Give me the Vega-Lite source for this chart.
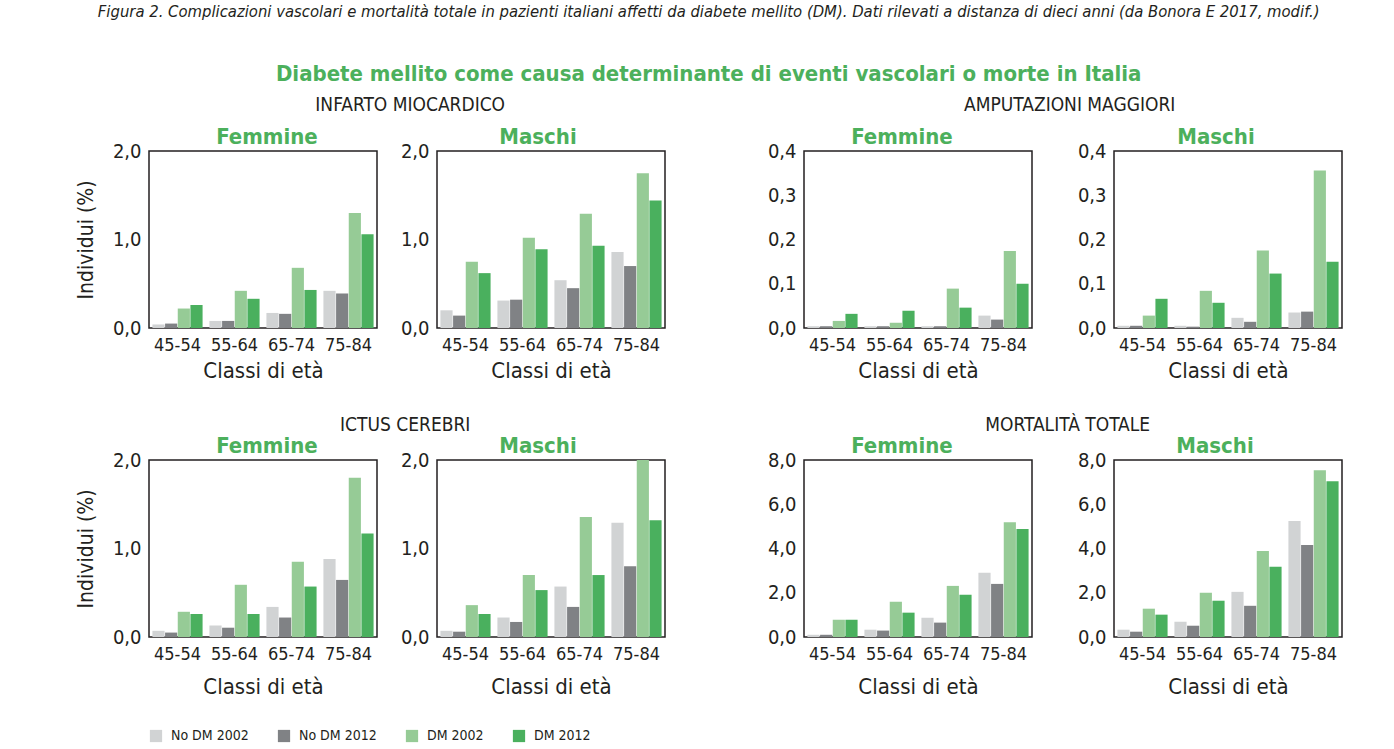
{
  "$schema": "https://vega.github.io/schema/vega-lite/v6.json",
  "padding": {"left": 74, "top": 3, "right": 5, "bottom": 5},
  "background": "white",
  "title": {
    "text": "Figura 2. Complicazioni vascolari e mortalità totale in pazienti italiani affetti da diabete mellito (DM). Dati rilevati a distanza di dieci anni (da Bonora E 2017, modif.)",
    "fontSize": 16.5, "fontStyle": "italic", "fontWeight": "normal", "color": "#231f20",
    "subtitle": "Diabete mellito come causa determinante di eventi vascolari o morte in Italia",
    "subtitleColor": "#4cb05c", "subtitleFontSize": 22, "subtitleFontWeight": "bold",
    "subtitleFont": "DejaVu Sans Condensed, sans-serif",
    "subtitlePadding": 44, "anchor": "middle", "offset": 11
  },
  "config": {
    "font": "DejaVu Sans Condensed, sans-serif",
    "view": {"stroke": "#231f20", "strokeWidth": 1.5},
    "axis": {"grid": false, "ticks": false, "domain": false, "labelColor": "#231f20", "titleColor": "#231f20", "titleFontWeight": "normal"},
    "axisX": {"labelFontSize": 18, "labelPadding": 8, "titleFontSize": 22, "titlePadding": 6, "labelAngle": 0},
    "axisY": {"labelFontSize": 20, "labelPadding": 8, "titleFontSize": 21, "titlePadding": 16},
    "title": {"fontSize": 22, "fontWeight": "bold", "color": "#4cb05c", "anchor": "middle", "offset": -8},
    "legend": {"orient": "bottom", "direction": "horizontal", "labelFontSize": 14, "labelColor": "#231f20", "symbolType": "square", "symbolSize": 150, "symbolStrokeWidth": 0, "columnPadding": 28, "labelOffset": 8, "offset": 31},
    "bar": {"stroke": null},
    "concat": {"spacing": 30}
  },
  "data": {"values": [
    {"o":"INF","s":"F","a":"45-54","g":"No DM 2002","v":0.04},{"o":"INF","s":"F","a":"45-54","g":"No DM 2012","v":0.05},{"o":"INF","s":"F","a":"45-54","g":"DM 2002","v":0.22},{"o":"INF","s":"F","a":"45-54","g":"DM 2012","v":0.26},
    {"o":"INF","s":"F","a":"55-64","g":"No DM 2002","v":0.08},{"o":"INF","s":"F","a":"55-64","g":"No DM 2012","v":0.08},{"o":"INF","s":"F","a":"55-64","g":"DM 2002","v":0.42},{"o":"INF","s":"F","a":"55-64","g":"DM 2012","v":0.33},
    {"o":"INF","s":"F","a":"65-74","g":"No DM 2002","v":0.17},{"o":"INF","s":"F","a":"65-74","g":"No DM 2012","v":0.16},{"o":"INF","s":"F","a":"65-74","g":"DM 2002","v":0.68},{"o":"INF","s":"F","a":"65-74","g":"DM 2012","v":0.43},
    {"o":"INF","s":"F","a":"75-84","g":"No DM 2002","v":0.42},{"o":"INF","s":"F","a":"75-84","g":"No DM 2012","v":0.39},{"o":"INF","s":"F","a":"75-84","g":"DM 2002","v":1.30},{"o":"INF","s":"F","a":"75-84","g":"DM 2012","v":1.06},
    {"o":"INF","s":"M","a":"45-54","g":"No DM 2002","v":0.20},{"o":"INF","s":"M","a":"45-54","g":"No DM 2012","v":0.14},{"o":"INF","s":"M","a":"45-54","g":"DM 2002","v":0.75},{"o":"INF","s":"M","a":"45-54","g":"DM 2012","v":0.62},
    {"o":"INF","s":"M","a":"55-64","g":"No DM 2002","v":0.31},{"o":"INF","s":"M","a":"55-64","g":"No DM 2012","v":0.32},{"o":"INF","s":"M","a":"55-64","g":"DM 2002","v":1.02},{"o":"INF","s":"M","a":"55-64","g":"DM 2012","v":0.89},
    {"o":"INF","s":"M","a":"65-74","g":"No DM 2002","v":0.54},{"o":"INF","s":"M","a":"65-74","g":"No DM 2012","v":0.45},{"o":"INF","s":"M","a":"65-74","g":"DM 2002","v":1.29},{"o":"INF","s":"M","a":"65-74","g":"DM 2012","v":0.93},
    {"o":"INF","s":"M","a":"75-84","g":"No DM 2002","v":0.86},{"o":"INF","s":"M","a":"75-84","g":"No DM 2012","v":0.70},{"o":"INF","s":"M","a":"75-84","g":"DM 2002","v":1.75},{"o":"INF","s":"M","a":"75-84","g":"DM 2012","v":1.44},
    {"o":"AMP","s":"F","a":"45-54","g":"No DM 2002","v":0.004},{"o":"AMP","s":"F","a":"45-54","g":"No DM 2012","v":0.004},{"o":"AMP","s":"F","a":"45-54","g":"DM 2002","v":0.016},{"o":"AMP","s":"F","a":"45-54","g":"DM 2012","v":0.032},
    {"o":"AMP","s":"F","a":"55-64","g":"No DM 2002","v":0.004},{"o":"AMP","s":"F","a":"55-64","g":"No DM 2012","v":0.004},{"o":"AMP","s":"F","a":"55-64","g":"DM 2002","v":0.012},{"o":"AMP","s":"F","a":"55-64","g":"DM 2012","v":0.039},
    {"o":"AMP","s":"F","a":"65-74","g":"No DM 2002","v":0.004},{"o":"AMP","s":"F","a":"65-74","g":"No DM 2012","v":0.004},{"o":"AMP","s":"F","a":"65-74","g":"DM 2002","v":0.089},{"o":"AMP","s":"F","a":"65-74","g":"DM 2012","v":0.046},
    {"o":"AMP","s":"F","a":"75-84","g":"No DM 2002","v":0.028},{"o":"AMP","s":"F","a":"75-84","g":"No DM 2012","v":0.019},{"o":"AMP","s":"F","a":"75-84","g":"DM 2002","v":0.174},{"o":"AMP","s":"F","a":"75-84","g":"DM 2012","v":0.100},
    {"o":"AMP","s":"M","a":"45-54","g":"No DM 2002","v":0.005},{"o":"AMP","s":"M","a":"45-54","g":"No DM 2012","v":0.005},{"o":"AMP","s":"M","a":"45-54","g":"DM 2002","v":0.028},{"o":"AMP","s":"M","a":"45-54","g":"DM 2012","v":0.066},
    {"o":"AMP","s":"M","a":"55-64","g":"No DM 2002","v":0.005},{"o":"AMP","s":"M","a":"55-64","g":"No DM 2012","v":0.003},{"o":"AMP","s":"M","a":"55-64","g":"DM 2002","v":0.084},{"o":"AMP","s":"M","a":"55-64","g":"DM 2012","v":0.057},
    {"o":"AMP","s":"M","a":"65-74","g":"No DM 2002","v":0.023},{"o":"AMP","s":"M","a":"65-74","g":"No DM 2012","v":0.014},{"o":"AMP","s":"M","a":"65-74","g":"DM 2002","v":0.175},{"o":"AMP","s":"M","a":"65-74","g":"DM 2012","v":0.123},
    {"o":"AMP","s":"M","a":"75-84","g":"No DM 2002","v":0.035},{"o":"AMP","s":"M","a":"75-84","g":"No DM 2012","v":0.037},{"o":"AMP","s":"M","a":"75-84","g":"DM 2002","v":0.356},{"o":"AMP","s":"M","a":"75-84","g":"DM 2012","v":0.150},
    {"o":"ICT","s":"F","a":"45-54","g":"No DM 2002","v":0.07},{"o":"ICT","s":"F","a":"45-54","g":"No DM 2012","v":0.05},{"o":"ICT","s":"F","a":"45-54","g":"DM 2002","v":0.285},{"o":"ICT","s":"F","a":"45-54","g":"DM 2012","v":0.26},
    {"o":"ICT","s":"F","a":"55-64","g":"No DM 2002","v":0.13},{"o":"ICT","s":"F","a":"55-64","g":"No DM 2012","v":0.105},{"o":"ICT","s":"F","a":"55-64","g":"DM 2002","v":0.59},{"o":"ICT","s":"F","a":"55-64","g":"DM 2012","v":0.26},
    {"o":"ICT","s":"F","a":"65-74","g":"No DM 2002","v":0.34},{"o":"ICT","s":"F","a":"65-74","g":"No DM 2012","v":0.22},{"o":"ICT","s":"F","a":"65-74","g":"DM 2002","v":0.85},{"o":"ICT","s":"F","a":"65-74","g":"DM 2012","v":0.57},
    {"o":"ICT","s":"F","a":"75-84","g":"No DM 2002","v":0.88},{"o":"ICT","s":"F","a":"75-84","g":"No DM 2012","v":0.645},{"o":"ICT","s":"F","a":"75-84","g":"DM 2002","v":1.80},{"o":"ICT","s":"F","a":"75-84","g":"DM 2012","v":1.17},
    {"o":"ICT","s":"M","a":"45-54","g":"No DM 2002","v":0.07},{"o":"ICT","s":"M","a":"45-54","g":"No DM 2012","v":0.06},{"o":"ICT","s":"M","a":"45-54","g":"DM 2002","v":0.36},{"o":"ICT","s":"M","a":"45-54","g":"DM 2012","v":0.26},
    {"o":"ICT","s":"M","a":"55-64","g":"No DM 2002","v":0.22},{"o":"ICT","s":"M","a":"55-64","g":"No DM 2012","v":0.17},{"o":"ICT","s":"M","a":"55-64","g":"DM 2002","v":0.70},{"o":"ICT","s":"M","a":"55-64","g":"DM 2012","v":0.53},
    {"o":"ICT","s":"M","a":"65-74","g":"No DM 2002","v":0.57},{"o":"ICT","s":"M","a":"65-74","g":"No DM 2012","v":0.34},{"o":"ICT","s":"M","a":"65-74","g":"DM 2002","v":1.355},{"o":"ICT","s":"M","a":"65-74","g":"DM 2012","v":0.70},
    {"o":"ICT","s":"M","a":"75-84","g":"No DM 2002","v":1.29},{"o":"ICT","s":"M","a":"75-84","g":"No DM 2012","v":0.80},{"o":"ICT","s":"M","a":"75-84","g":"DM 2002","v":2.0},{"o":"ICT","s":"M","a":"75-84","g":"DM 2012","v":1.32},
    {"o":"MOR","s":"F","a":"45-54","g":"No DM 2002","v":0.10},{"o":"MOR","s":"F","a":"45-54","g":"No DM 2012","v":0.10},{"o":"MOR","s":"F","a":"45-54","g":"DM 2002","v":0.78},{"o":"MOR","s":"F","a":"45-54","g":"DM 2012","v":0.78},
    {"o":"MOR","s":"F","a":"55-64","g":"No DM 2002","v":0.33},{"o":"MOR","s":"F","a":"55-64","g":"No DM 2012","v":0.29},{"o":"MOR","s":"F","a":"55-64","g":"DM 2002","v":1.59},{"o":"MOR","s":"F","a":"55-64","g":"DM 2012","v":1.10},
    {"o":"MOR","s":"F","a":"65-74","g":"No DM 2002","v":0.87},{"o":"MOR","s":"F","a":"65-74","g":"No DM 2012","v":0.65},{"o":"MOR","s":"F","a":"65-74","g":"DM 2002","v":2.31},{"o":"MOR","s":"F","a":"65-74","g":"DM 2012","v":1.91},
    {"o":"MOR","s":"F","a":"75-84","g":"No DM 2002","v":2.90},{"o":"MOR","s":"F","a":"75-84","g":"No DM 2012","v":2.40},{"o":"MOR","s":"F","a":"75-84","g":"DM 2002","v":5.19},{"o":"MOR","s":"F","a":"75-84","g":"DM 2012","v":4.88},
    {"o":"MOR","s":"M","a":"45-54","g":"No DM 2002","v":0.33},{"o":"MOR","s":"M","a":"45-54","g":"No DM 2012","v":0.24},{"o":"MOR","s":"M","a":"45-54","g":"DM 2002","v":1.28},{"o":"MOR","s":"M","a":"45-54","g":"DM 2012","v":1.01},
    {"o":"MOR","s":"M","a":"55-64","g":"No DM 2002","v":0.69},{"o":"MOR","s":"M","a":"55-64","g":"No DM 2012","v":0.51},{"o":"MOR","s":"M","a":"55-64","g":"DM 2002","v":2.00},{"o":"MOR","s":"M","a":"55-64","g":"DM 2012","v":1.64},
    {"o":"MOR","s":"M","a":"65-74","g":"No DM 2002","v":2.04},{"o":"MOR","s":"M","a":"65-74","g":"No DM 2012","v":1.41},{"o":"MOR","s":"M","a":"65-74","g":"DM 2002","v":3.89},{"o":"MOR","s":"M","a":"65-74","g":"DM 2012","v":3.17},
    {"o":"MOR","s":"M","a":"75-84","g":"No DM 2002","v":5.24},{"o":"MOR","s":"M","a":"75-84","g":"No DM 2012","v":4.16},{"o":"MOR","s":"M","a":"75-84","g":"DM 2002","v":7.54},{"o":"MOR","s":"M","a":"75-84","g":"DM 2012","v":7.04}
  ]},
  "vconcat": [
    {"hconcat": [
      {"title": {"text": "INFARTO MIOCARDICO", "color": "#231f20", "fontWeight": "normal", "fontSize": 19, "offset": 10, "dx": 40}, "spacing": 21, "hconcat": [
        {"title": {"text": "Femmine", "dx": 4}, "width": 228, "height": 177, "transform": [{"filter": "datum.o == 'INF' && datum.s == 'F'"}], "mark": "bar",
         "encoding": {"x": {"field": "a", "type": "nominal", "title": "Classi di età", "scale": {"paddingInner": 0.12, "paddingOuter": 0.06}},
           "xOffset": {"field": "g", "sort": ["No DM 2002","No DM 2012","DM 2002","DM 2012"], "scale": {"paddingInner": 0.04}},
           "y": {"field": "v", "type": "quantitative", "scale": {"domain": [0, 2]}, "axis": {"values": [0, 1, 2], "title": "Individui (%)", "labelExpr": "replace(format(datum.value, '.1f'), '.', ',')"}},
           "color": {"field": "g", "type": "nominal", "scale": {"domain": ["No DM 2002","No DM 2012","DM 2002","DM 2012"], "range": ["#d1d3d4","#808285","#96cb96","#4ab05e"]}, "legend": {"title": null}}}},
        {"title": {"text": "Maschi", "dx": -13}, "width": 228, "height": 177, "transform": [{"filter": "datum.o == 'INF' && datum.s == 'M'"}], "mark": "bar",
         "encoding": {"x": {"field": "a", "type": "nominal", "title": "Classi di età", "scale": {"paddingInner": 0.12, "paddingOuter": 0.06}},
           "xOffset": {"field": "g", "sort": ["No DM 2002","No DM 2012","DM 2002","DM 2012"], "scale": {"paddingInner": 0.04}},
           "y": {"field": "v", "type": "quantitative", "scale": {"domain": [0, 2]}, "axis": {"values": [0, 1, 2], "title": null, "labelExpr": "replace(format(datum.value, '.1f'), '.', ',')"}},
           "color": {"field": "g", "type": "nominal", "scale": {"domain": ["No DM 2002","No DM 2012","DM 2002","DM 2012"], "range": ["#d1d3d4","#808285","#96cb96","#4ab05e"]}, "legend": {"title": null}}}}
      ]},
      {"title": {"text": "AMPUTAZIONI MAGGIORI", "color": "#231f20", "fontWeight": "normal", "fontSize": 19, "offset": 10, "dx": 15}, "spacing": 43, "hconcat": [
        {"title": {"text": "Femmine", "dx": -16}, "width": 228, "height": 177, "transform": [{"filter": "datum.o == 'AMP' && datum.s == 'F'"}], "mark": "bar",
         "encoding": {"x": {"field": "a", "type": "nominal", "title": "Classi di età", "scale": {"paddingInner": 0.12, "paddingOuter": 0.06}},
           "xOffset": {"field": "g", "sort": ["No DM 2002","No DM 2012","DM 2002","DM 2012"], "scale": {"paddingInner": 0.04}},
           "y": {"field": "v", "type": "quantitative", "scale": {"domain": [0, 0.4]}, "axis": {"values": [0, 0.1, 0.2, 0.3, 0.4], "title": null, "labelExpr": "replace(format(datum.value, '.1f'), '.', ',')"}},
           "color": {"field": "g", "type": "nominal", "scale": {"domain": ["No DM 2002","No DM 2012","DM 2002","DM 2012"], "range": ["#d1d3d4","#808285","#96cb96","#4ab05e"]}, "legend": {"title": null}}}},
        {"title": {"text": "Maschi", "dx": -12}, "width": 228, "height": 177, "transform": [{"filter": "datum.o == 'AMP' && datum.s == 'M'"}], "mark": "bar",
         "encoding": {"x": {"field": "a", "type": "nominal", "title": "Classi di età", "scale": {"paddingInner": 0.12, "paddingOuter": 0.06}},
           "xOffset": {"field": "g", "sort": ["No DM 2002","No DM 2012","DM 2002","DM 2012"], "scale": {"paddingInner": 0.04}},
           "y": {"field": "v", "type": "quantitative", "scale": {"domain": [0, 0.4]}, "axis": {"values": [0, 0.1, 0.2, 0.3, 0.4], "title": null, "labelExpr": "replace(format(datum.value, '.1f'), '.', ',')"}},
           "color": {"field": "g", "type": "nominal", "scale": {"domain": ["No DM 2002","No DM 2012","DM 2002","DM 2012"], "range": ["#d1d3d4","#808285","#96cb96","#4ab05e"]}, "legend": {"title": null}}}}
      ]}
    ], "spacing": 100},
    {"hconcat": [
      {"title": {"text": "ICTUS CEREBRI", "color": "#231f20", "fontWeight": "normal", "fontSize": 19, "offset": -1, "dx": 35}, "spacing": 21, "hconcat": [
        {"title": {"text": "Femmine", "dx": 4}, "width": 228, "height": 177, "transform": [{"filter": "datum.o == 'ICT' && datum.s == 'F'"}], "mark": "bar",
         "encoding": {"x": {"field": "a", "type": "nominal", "title": "Classi di età", "scale": {"paddingInner": 0.12, "paddingOuter": 0.06}, "axis": {"titlePadding": 13}},
           "xOffset": {"field": "g", "sort": ["No DM 2002","No DM 2012","DM 2002","DM 2012"], "scale": {"paddingInner": 0.04}},
           "y": {"field": "v", "type": "quantitative", "scale": {"domain": [0, 2]}, "axis": {"values": [0, 1, 2], "title": "Individui (%)", "labelExpr": "replace(format(datum.value, '.1f'), '.', ',')"}},
           "color": {"field": "g", "type": "nominal", "scale": {"domain": ["No DM 2002","No DM 2012","DM 2002","DM 2012"], "range": ["#d1d3d4","#808285","#96cb96","#4ab05e"]}, "legend": {"title": null}}}},
        {"title": {"text": "Maschi", "dx": -13}, "width": 228, "height": 177, "transform": [{"filter": "datum.o == 'ICT' && datum.s == 'M'"}], "mark": "bar",
         "encoding": {"x": {"field": "a", "type": "nominal", "title": "Classi di età", "scale": {"paddingInner": 0.12, "paddingOuter": 0.06}, "axis": {"titlePadding": 13}},
           "xOffset": {"field": "g", "sort": ["No DM 2002","No DM 2012","DM 2002","DM 2012"], "scale": {"paddingInner": 0.04}},
           "y": {"field": "v", "type": "quantitative", "scale": {"domain": [0, 2]}, "axis": {"values": [0, 1, 2], "title": null, "labelExpr": "replace(format(datum.value, '.1f'), '.', ',')"}},
           "color": {"field": "g", "type": "nominal", "scale": {"domain": ["No DM 2002","No DM 2012","DM 2002","DM 2012"], "range": ["#d1d3d4","#808285","#96cb96","#4ab05e"]}, "legend": {"title": null}}}}
      ]},
      {"title": {"text": "MORTALITÀ TOTALE", "color": "#231f20", "fontWeight": "normal", "fontSize": 19, "offset": -1, "dx": 13}, "spacing": 43, "hconcat": [
        {"title": {"text": "Femmine", "dx": -16}, "width": 228, "height": 177, "transform": [{"filter": "datum.o == 'MOR' && datum.s == 'F'"}], "mark": "bar",
         "encoding": {"x": {"field": "a", "type": "nominal", "title": "Classi di età", "scale": {"paddingInner": 0.12, "paddingOuter": 0.06}, "axis": {"titlePadding": 13}},
           "xOffset": {"field": "g", "sort": ["No DM 2002","No DM 2012","DM 2002","DM 2012"], "scale": {"paddingInner": 0.04}},
           "y": {"field": "v", "type": "quantitative", "scale": {"domain": [0, 8]}, "axis": {"values": [0, 2, 4, 6, 8], "title": null, "labelExpr": "replace(format(datum.value, '.1f'), '.', ',')"}},
           "color": {"field": "g", "type": "nominal", "scale": {"domain": ["No DM 2002","No DM 2012","DM 2002","DM 2012"], "range": ["#d1d3d4","#808285","#96cb96","#4ab05e"]}, "legend": {"title": null}}}},
        {"title": {"text": "Maschi", "dx": -13}, "width": 228, "height": 177, "transform": [{"filter": "datum.o == 'MOR' && datum.s == 'M'"}], "mark": "bar",
         "encoding": {"x": {"field": "a", "type": "nominal", "title": "Classi di età", "scale": {"paddingInner": 0.12, "paddingOuter": 0.06}, "axis": {"titlePadding": 13}},
           "xOffset": {"field": "g", "sort": ["No DM 2002","No DM 2012","DM 2002","DM 2012"], "scale": {"paddingInner": 0.04}},
           "y": {"field": "v", "type": "quantitative", "scale": {"domain": [0, 8]}, "axis": {"values": [0, 2, 4, 6, 8], "title": null, "labelExpr": "replace(format(datum.value, '.1f'), '.', ',')"}},
           "color": {"field": "g", "type": "nominal", "scale": {"domain": ["No DM 2002","No DM 2012","DM 2002","DM 2012"], "range": ["#d1d3d4","#808285","#96cb96","#4ab05e"]}, "legend": {"title": null}}}}
      ]}
    ], "spacing": 100}
  ],
  "spacing": 34
}
